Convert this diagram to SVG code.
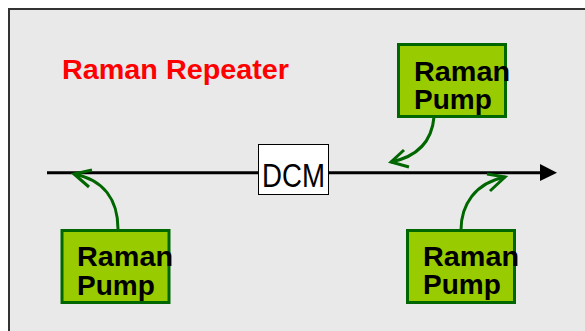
<svg xmlns="http://www.w3.org/2000/svg" width="585" height="331" viewBox="0 0 585 331">
<defs>
<style>
.pump rect{fill:#99cc00;stroke:#006600;stroke-width:3}
.pump text{font-family:"Liberation Sans",Arial,sans-serif;font-weight:bold;font-size:28px;fill:#000}
.conn path{fill:none;stroke:#006600;stroke-width:3}
</style>
</defs>
<rect x="0" y="0" width="585" height="331" fill="#ffffff"/>
<rect x="9" y="9" width="590" height="340" fill="#e9e9e9" stroke="#333333" stroke-width="2"/>
<text x="62" y="79" font-family="'Liberation Sans',Arial,sans-serif" font-weight="bold" font-size="27" fill="#ff0000" textLength="227" lengthAdjust="spacingAndGlyphs">Raman Repeater</text>
<g id="fiber">
<line x1="47" y1="172.7" x2="542" y2="172.7" stroke="#000" stroke-width="3"/>
<polygon points="540,164 557,172.7 540,181" fill="#000"/>
</g>
<g id="dcm">
<rect x="258.5" y="144.5" width="70" height="50" fill="#ffffff" stroke="#000" stroke-width="1"/>
<text x="293.5" y="187" text-anchor="middle" font-family="'Liberation Sans',Arial,sans-serif" font-size="33" textLength="63" lengthAdjust="spacingAndGlyphs">DCM</text>
</g>
<g class="conn" id="connectors">
<path d="M434,117 C432,140 420,156 391,162"/>
<path d="M404,150 L391,162 L409,167"/>
<path d="M118,229 C118,200 104,180 74,174"/>
<path d="M92,170 L74,174 L89,187"/>
<path d="M461,230 C461,205 475,183 505,177"/>
<path d="M487,174 L505,177 L490,191"/>
</g>
<g class="pump" id="pump-top">
<rect x="398.5" y="44.5" width="107" height="72"/>
<text x="414" y="81" textLength="96" lengthAdjust="spacingAndGlyphs">Raman</text>
<text x="414" y="109">Pump</text>
</g>
<g class="pump" id="pump-left">
<rect x="62" y="230.5" width="107" height="72"/>
<text x="77" y="266" textLength="96" lengthAdjust="spacingAndGlyphs">Raman</text>
<text x="77" y="295">Pump</text>
</g>
<g class="pump" id="pump-right">
<rect x="407.5" y="230.5" width="107" height="72"/>
<text x="423" y="266" textLength="96" lengthAdjust="spacingAndGlyphs">Raman</text>
<text x="423" y="294">Pump</text>
</g>
</svg>
